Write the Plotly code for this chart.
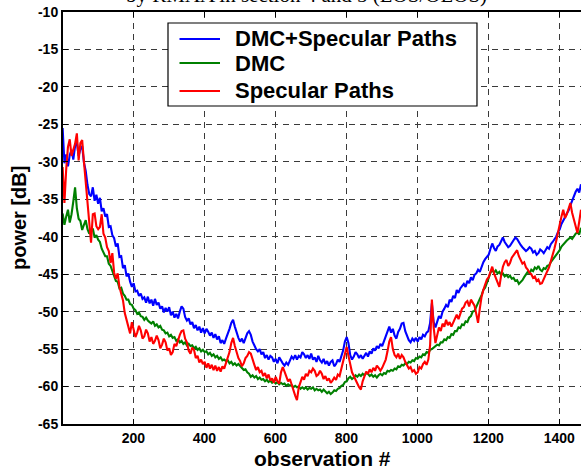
import plotly.graph_objects as go

# Received power per observation (sampled every 5 observations), dB
dmc_plus_specular = [
    -25.5, -30.2, -29.0, -30.6, -29.1, -28.4, -29.7, -27.9, -27.4, -29.2,
    -28.3, -27.9, -30.1, -31.2, -33.1, -34.3, -34.6, -33.4, -35.2, -34.4,
    -35.6, -34.8, -36.6, -36.2, -37.3, -37.0, -38.7, -38.6, -39.8, -40.2,
    -41.3, -40.9, -42.7, -42.6, -44.2, -43.8, -45.3, -44.9, -46.0, -46.7,
    -46.2, -47.3, -47.2, -47.9, -47.6, -48.3, -48.1, -48.8, -48.0, -48.9,
    -48.4, -49.2, -48.3, -49.1, -48.8, -49.6, -49.3, -50.1, -49.5, -50.0,
    -49.4, -50.5, -50.0, -50.8, -50.3, -50.9, -50.0, -49.3, -49.6, -50.7,
    -51.2, -50.9, -51.7, -51.4, -52.2, -51.8, -52.5, -52.0, -52.8, -52.2,
    -52.9, -52.3, -52.7, -53.2, -52.8, -53.5, -53.0, -53.7, -53.3, -54.2,
    -53.8, -54.3, -53.6, -53.0, -52.3, -51.5, -51.1, -52.0, -52.9, -53.5,
    -54.0, -53.6, -54.2, -53.4, -52.9, -52.6, -53.1, -54.0, -54.6, -55.0,
    -55.3, -55.0, -55.7, -55.4, -56.2, -55.8, -56.4, -55.9, -56.1, -56.7,
    -56.3, -56.9, -56.1, -56.6, -56.9, -57.2, -56.8, -57.1, -56.4, -56.0,
    -56.3, -55.8, -56.4, -55.9, -56.1, -55.4, -55.7, -56.2, -55.8, -56.3,
    -55.6, -56.4, -56.1, -56.7, -55.9, -56.5, -56.8, -56.3, -57.0, -56.6,
    -57.2, -56.7, -56.5, -57.3, -57.0, -56.4, -56.7, -55.9, -55.2, -54.0,
    -53.4, -54.2, -55.8, -56.4, -56.0, -55.4, -55.7, -56.2, -55.8, -56.3,
    -55.9, -55.5, -56.0, -55.3, -55.6, -54.9, -55.2, -54.6, -54.9, -54.3,
    -54.6, -53.9, -53.3, -52.4, -52.0, -52.8, -52.3, -53.2, -53.6, -52.7,
    -52.3, -51.6, -51.5, -52.6, -53.2, -53.8, -54.1, -53.6, -53.9, -53.5,
    -54.0, -53.4, -53.7, -53.1, -53.3, -52.8, -52.6, -51.5, -48.9, -51.4,
    -52.1, -51.2, -50.6, -50.9, -50.0, -49.6, -49.1, -49.4, -48.4, -48.7,
    -47.9, -48.2, -47.1, -47.5, -46.9, -46.6, -46.3, -46.7, -45.9, -46.2,
    -45.4, -45.8, -45.1, -44.9, -44.4, -44.7, -43.9, -43.4, -43.0, -42.7,
    -42.4, -41.6, -40.9, -41.5, -41.9, -41.3, -41.1, -40.6, -40.1, -40.7,
    -41.1, -41.4, -41.2, -40.8, -40.4, -40.1, -40.3, -40.8, -41.1, -41.4,
    -41.6, -41.9, -41.7, -41.4, -41.6, -42.1, -41.9, -42.4, -42.2, -41.7,
    -41.9, -42.2, -41.8, -41.4, -41.6, -41.0, -40.7, -40.3, -40.0, -39.4,
    -39.0, -38.3, -37.9, -37.4, -36.9, -36.5, -35.8, -35.2, -34.4, -34.0,
    -33.6, -34.1, -33.0,
]

dmc = [
    -36.9, -38.4, -37.3, -36.4, -38.1, -37.0, -35.3, -33.4, -36.2, -37.6,
    -37.9, -39.1, -38.4, -37.8, -39.0, -39.6, -39.3, -38.9, -40.1, -39.8,
    -40.4, -40.7, -41.6, -42.0, -42.6, -42.6, -43.6, -43.9, -44.6, -45.1,
    -45.9, -46.0, -46.9, -46.8, -47.6, -47.9, -48.4, -48.4, -49.0, -49.1,
    -49.6, -49.8, -50.3, -50.1, -50.6, -50.7, -51.1, -50.8, -51.2, -51.4,
    -51.6, -51.3, -51.9, -51.7, -52.1, -51.9, -52.4, -52.5, -52.9, -52.8,
    -53.3, -53.1, -53.5, -53.4, -53.9, -53.7, -54.1, -53.9, -54.3, -54.1,
    -54.5, -54.3, -54.6, -54.5, -54.9, -54.7, -55.1, -54.9, -55.3, -55.1,
    -55.4, -55.3, -55.7, -55.5, -55.9, -55.7, -56.1, -55.9, -56.3, -56.1,
    -56.5, -56.4, -56.6, -56.5, -56.9, -56.7, -57.1, -56.9, -57.2, -57.0,
    -57.3, -57.5, -57.8, -57.7, -58.1, -58.3, -58.7, -58.5, -58.8, -58.6,
    -59.0, -58.8, -59.1, -59.0, -59.3, -59.1, -59.4, -59.2, -59.5, -59.3,
    -59.6, -59.4, -59.7, -59.5, -59.7, -59.6, -59.9, -59.7, -59.9, -59.8,
    -60.1, -59.9, -60.1, -60.0, -60.3, -60.1, -60.3, -60.1, -60.4, -60.2,
    -60.3, -60.1, -60.5, -60.3, -60.5, -60.4, -60.7, -60.4, -60.6, -60.9,
    -60.7, -61.0, -60.8, -60.5, -60.6, -60.3, -60.2, -59.9, -59.8, -59.4,
    -59.3, -58.9, -58.7, -59.0, -58.8, -58.5, -58.7, -58.4, -58.6, -58.3,
    -58.5, -58.2, -58.3, -58.6, -58.4, -58.7, -58.5, -58.8, -58.5, -58.3,
    -58.5, -58.2, -58.3, -57.9, -58.0, -57.8, -57.9, -57.6, -57.7, -57.3,
    -57.4, -57.1, -57.2, -56.9, -57.0, -56.7, -56.8, -56.5, -56.6, -56.2,
    -56.3, -56.0, -56.1, -55.7, -55.8, -55.4, -55.5, -55.1, -55.0, -54.8,
    -54.7, -54.4, -54.5, -54.1, -54.1, -53.7, -53.8, -53.4, -53.5, -53.0,
    -53.1, -52.6, -52.6, -52.1, -52.2, -51.7, -51.8, -51.3, -51.4, -50.8,
    -50.6, -50.0, -49.9, -49.3, -48.9, -48.3, -47.8, -47.1, -46.8, -46.0,
    -45.5, -44.8, -44.4, -44.8, -44.5, -44.9, -44.7, -45.1, -44.9, -45.3,
    -45.1, -45.4, -45.2, -45.6, -45.5, -45.9, -45.8, -46.3, -46.1, -45.8,
    -45.4, -45.0, -44.7, -44.9, -44.4, -44.6, -44.1, -44.3, -43.9, -44.4,
    -44.6, -44.2, -44.3, -43.9, -43.8, -43.4, -43.1, -42.8, -42.4, -42.1,
    -41.8, -41.3, -41.0, -40.7, -40.5, -40.3, -40.1, -40.3, -39.9, -39.6,
    -39.4, -39.7, -38.8,
]

specular = [
    -30.7, -35.5, -31.0, -28.0, -27.0, -29.2, -28.4, -27.6, -26.2, -29.8,
    -27.5, -27.1, -30.0, -32.8, -36.0, -38.1, -40.8, -37.0, -36.9, -38.6,
    -39.0, -38.7, -37.0, -39.6, -40.1, -41.4, -41.9, -43.5, -42.2, -44.8,
    -45.6, -44.9, -46.7, -47.6, -48.5, -50.2, -51.0, -52.1, -52.9, -51.4,
    -52.6, -53.4, -52.8, -51.9, -52.5, -53.6, -53.3, -52.4, -52.9, -54.0,
    -53.4, -54.3, -53.9, -53.2, -53.8, -54.9, -54.4, -53.6, -54.1, -55.2,
    -54.9, -55.8, -55.4, -54.3, -54.6, -53.7, -53.1, -52.6, -52.5, -53.6,
    -54.1, -55.2, -55.6, -54.8, -55.1, -56.2, -55.9, -56.8, -56.4, -57.0,
    -56.7, -57.5, -56.9, -57.6, -57.1, -57.8, -57.2, -57.9, -57.4, -58.0,
    -57.3, -57.6, -56.9, -56.0, -55.4, -54.2, -53.5, -54.6, -55.6, -56.2,
    -56.6, -57.3, -56.9, -56.2, -55.9, -55.4, -55.6, -56.5, -57.1, -57.8,
    -57.4, -58.1, -57.9, -58.6, -58.2, -58.9, -58.4, -59.2, -58.9, -59.5,
    -58.7, -59.3, -59.6, -58.1, -57.4, -58.0, -58.6, -59.3, -59.0, -59.8,
    -60.6, -61.2, -61.8, -60.1, -59.4, -58.7, -59.1, -58.3, -58.6, -57.9,
    -58.1, -57.6, -57.9, -58.6, -58.4, -57.9, -58.3, -59.0, -58.6, -59.2,
    -58.9, -59.5, -59.2, -58.8, -59.1, -58.4, -58.6, -57.6, -57.0, -55.8,
    -54.7, -55.9, -57.3, -58.1, -58.6, -59.2, -59.6, -60.1, -60.4, -59.3,
    -58.6, -58.0, -58.3, -57.7, -58.1, -57.5, -57.9, -57.2, -57.5, -57.9,
    -57.5, -57.0, -56.4, -55.3, -54.0, -53.4, -55.0, -55.8, -56.1, -55.6,
    -56.3, -55.8, -56.1, -56.7, -57.1, -57.6, -57.4, -58.0, -57.8, -58.3,
    -58.1, -57.4, -57.6, -57.0, -56.7, -57.1, -56.4, -54.5, -48.4, -52.1,
    -54.2, -53.0, -52.1, -52.6, -51.6, -52.0, -51.1, -51.8, -51.4, -52.0,
    -51.5, -50.8, -50.4, -51.0, -50.2, -49.6, -49.4, -48.8, -48.6, -49.3,
    -48.4, -48.9, -49.2, -50.3, -51.5, -49.6, -48.0, -47.1, -46.3, -45.7,
    -45.4, -44.6, -44.0, -44.9, -45.6, -46.3, -46.7, -45.2, -44.0, -43.4,
    -43.1, -43.9, -43.5, -42.8, -42.5, -42.1, -41.8, -42.6, -43.0, -43.6,
    -43.4, -44.1, -44.4, -44.8, -45.0, -45.5, -45.3, -45.9, -45.7, -46.3,
    -46.2, -45.6, -45.0, -44.6, -44.1, -43.3, -42.7, -41.6, -40.6, -39.4,
    -38.6, -37.3, -36.4, -37.5, -37.0, -36.1, -35.5, -36.8, -37.6, -38.7,
    -39.5, -38.0, -36.4,
]

series_names = ["DMC+Specular Paths", "DMC", "Specular Paths"]
series_colors = ["#0000FF", "#008000", "#FF0000"]
x_ticks = [200, 400, 600, 800, 1000, 1200, 1400]
y_ticks = [-10, -15, -20, -25, -30, -35, -40, -45, -50, -55, -60, -65]

FONT = "Liberation Sans, Arial, sans-serif"

fig = go.Figure()
for name, color, values in zip(series_names, series_colors,
                               [dmc_plus_specular, dmc, specular]):
    obs = [1 + 5 * i for i in range(len(values))]
    fig.add_trace(go.Scatter(
        x=obs, y=values, mode="lines", name=name,
        line=dict(color=color, width=2.1),
    ))

grid = dict(showgrid=True, gridcolor="#3a3a3a", gridwidth=1, griddash="6px,5px")

fig.update_xaxes(
    range=[2, 1461], tickvals=x_ticks, ticktext=[str(v) for v in x_ticks],
    ticks="inside", ticklen=5, tickwidth=1, tickcolor="black",
    showline=True, linecolor="black", linewidth=2, mirror="ticks",
    tickfont=dict(family=FONT, size=14, color="black", weight="bold"),
    zeroline=False, **grid,
)
fig.update_yaxes(
    range=[-65, -10], tickvals=y_ticks, ticktext=[str(v) for v in y_ticks],
    ticks="inside", ticklen=5, tickwidth=1, tickcolor="black",
    showline=True, linecolor="black", linewidth=2, mirror=False,
    tickfont=dict(family=FONT, size=14, color="black", weight="bold"),
    zeroline=False, **grid,
)

# Boxed legend in the upper middle of the axes (paper coordinates)
legend_box = dict(x0=0.2027, x1=0.7992, y0=0.7718, y1=0.9733)
legend_rows_y = [0.9345, 0.8762, 0.8083]
legend_line_x = (0.2249, 0.3031)
legend_text_x = 0.3282

shapes = [dict(type="rect", xref="paper", yref="paper",
               fillcolor="white", line=dict(color="black", width=1.2),
               layer="above", **legend_box)]
annotations = []
for name, color, ry in zip(series_names, series_colors, legend_rows_y):
    shapes.append(dict(type="line", xref="paper", yref="paper",
                       x0=legend_line_x[0], x1=legend_line_x[1], y0=ry, y1=ry,
                       line=dict(color=color, width=2), layer="above"))
    annotations.append(dict(text=name, xref="paper", yref="paper",
                            x=legend_text_x, y=ry, xanchor="left",
                            yanchor="middle", showarrow=False,
                            font=dict(family=FONT, size=22, color="black",
                                      weight="bold")))

annotations += [
    dict(text="observation #", xref="paper", yref="paper",
         x=0.5, y=0, xanchor="center", yanchor="middle", yshift=-34,
         showarrow=False,
         font=dict(family=FONT, size=21, color="black", weight="bold")),
    dict(text="power [dB]", xref="paper", yref="paper",
         x=0, y=0.5, xanchor="center", yanchor="middle", xshift=-44,
         textangle=-90, showarrow=False,
         font=dict(family=FONT, size=20, color="black", weight="bold")),
    dict(text="by RMAA in section 4 and 5 (LOS/OLOS)",
         xref="paper", yref="paper", x=0.47, y=1,
         xanchor="center", yanchor="bottom", yshift=3, showarrow=False,
         font=dict(family="Liberation Serif, Times New Roman, serif",
                   size=21, color="black")),
]

fig.update_layout(
    width=581, height=470,
    margin=dict(l=63, r=0, t=12, b=46),
    plot_bgcolor="white", paper_bgcolor="white",
    showlegend=False,
    shapes=shapes,
    annotations=annotations,
)

fig.write_html("out.html", config={"displayModeBar": False})
